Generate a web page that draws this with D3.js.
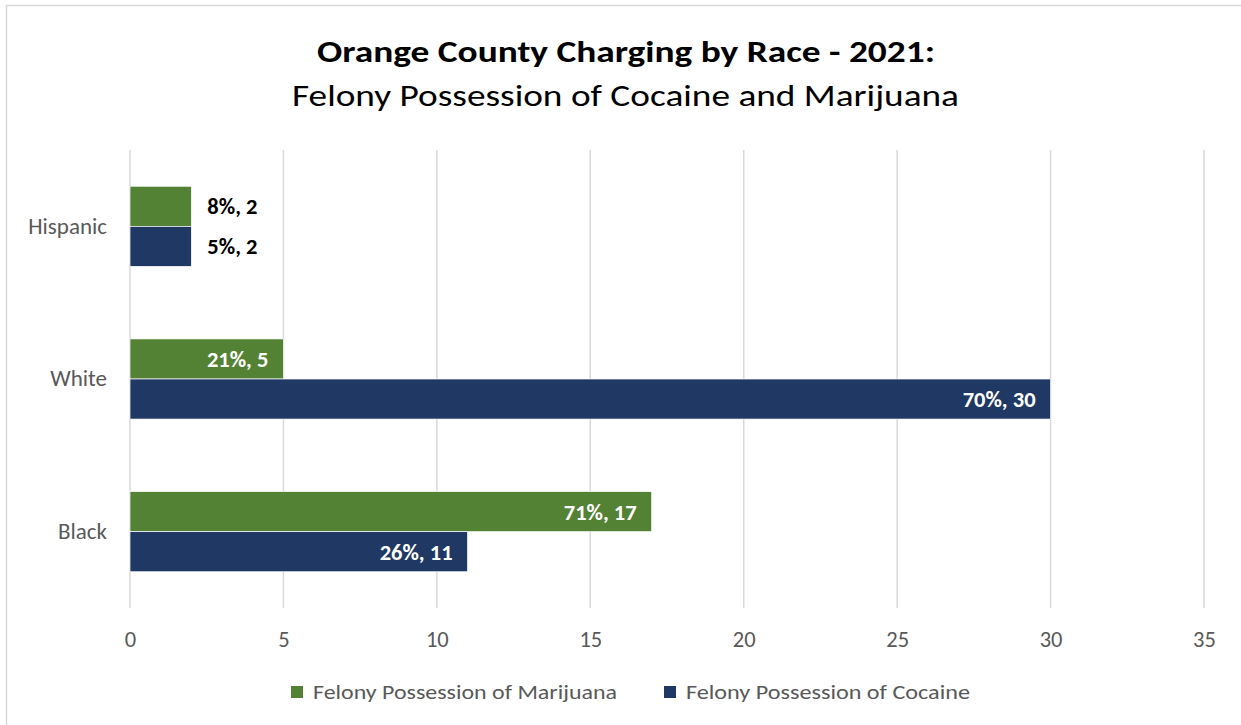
<!DOCTYPE html>
<html><head><meta charset="utf-8">
<script src="https://cdn.jsdelivr.net/npm/d3@7"></script>
<style>
body{margin:0;background:#fff;}
text{font-family:Carlito,Calibri,Lato,"Open Sans",sans-serif;}
</style></head>
<body><svg id="c" width="1241" height="725"></svg>
<script>
const categories = ["Hispanic","White","Black"];
const seriesNames = ["Felony Possession of Marijuana","Felony Possession of Cocaine"];
const marijuana = [2,5,17];
const cocaine = [2,30,11];
const marijuanaPct = ["8%","21%","71%"];
const cocainePct = ["5%","70%","26%"];
const xTicks = [0,5,10,15,20,25,30,35];
const colors = ["#548235","#203864"];
const FF = 'Carlito,Calibri,Lato,"Open Sans",sans-serif';

const svg = d3.select("#c");
svg.append("rect").attr("x",6.5).attr("y",5.5).attr("width",1250).attr("height",730)
  .attr("fill","#fff").attr("stroke","#d9d9d9").attr("stroke-width",1.5);

svg.append("text").attr("x",626).attr("y",62).attr("text-anchor","middle")
  .attr("font-size",31).attr("font-weight","bold").attr("fill","#000")
  .attr("textLength",618).attr("lengthAdjust","spacingAndGlyphs")
  .text("Orange County Charging by Race - 2021:");
svg.append("text").attr("x",625.5).attr("y",106).attr("text-anchor","middle")
  .attr("font-size",31).attr("fill","#000")
  .attr("textLength",667).attr("lengthAdjust","spacingAndGlyphs")
  .text("Felony Possession of Cocaine and Marijuana");

const x = d3.scaleLinear().domain([0,35]).range([130,1204]);
const y = d3.scaleBand().domain(categories).range([150,608]).paddingInner(0.475).paddingOuter(0.2375);
const y1 = d3.scaleBand().domain([0,1]).range([0,y.bandwidth()]);

// gridlines
svg.append("g").selectAll("line").data(xTicks).join("line")
  .attr("x1",d=>x(d)).attr("x2",d=>x(d)).attr("y1",150).attr("y2",608)
  .attr("stroke","#d9d9d9").attr("stroke-width",1.5);

// x axis labels
const xa = svg.append("g").attr("transform","translate(0,608)")
  .call(d3.axisBottom(x).tickValues(xTicks).tickSize(0).tickPadding(23));
xa.select(".domain").remove();
xa.selectAll("text").attr("font-size",22.5).attr("fill","#595959").attr("font-family",FF);

// y axis labels
const ya = svg.append("g").attr("transform","translate(130,0)")
  .call(d3.axisLeft(y).tickSize(0).tickPadding(23));
ya.select(".domain").remove();
ya.selectAll("text").attr("font-size",23).attr("fill","#595959").attr("font-family",FF);

const data = [];
categories.forEach((c,i)=>{
  data.push({cat:c,s:0,v:marijuana[i],pct:marijuanaPct[i]});
  data.push({cat:c,s:1,v:cocaine[i],pct:cocainePct[i]});
});

svg.append("g").selectAll("rect").data(data).join("rect")
  .attr("x",x(0)).attr("y",d=>y(d.cat)+y1(d.s))
  .attr("width",d=>x(d.v)-x(0)).attr("height",y1.bandwidth())
  .attr("fill",d=>colors[d.s]).attr("stroke","#fff").attr("stroke-width",0.7);

svg.append("g").selectAll("text").data(data).join("text")
  .attr("x",d=> d.cat==="Hispanic" ? x(d.v)+16 : x(d.v)-15)
  .attr("y",d=>y(d.cat)+y1(d.s)+y1.bandwidth()/2)
  .attr("dy","0.36em")
  .attr("text-anchor",d=> d.cat==="Hispanic" ? "start" : "end")
  .attr("font-size",22.5).attr("font-weight","bold")
  .attr("fill",d=> d.cat==="Hispanic" ? "#000" : "#fff")
  .text(d=>d.pct+", "+d.v);

// legend
const lg = svg.append("g");
const lx = [291,664];
const lw = [304,284];
seriesNames.forEach((n,i)=>{
  lg.append("rect").attr("x",lx[i]).attr("y",686).attr("width",12).attr("height",12).attr("fill",colors[i]);
  lg.append("text").attr("x",lx[i]+22).attr("y",692).attr("dy","0.35em")
    .attr("font-size",20.5).attr("fill","#595959")
    .attr("textLength",lw[i]).attr("lengthAdjust","spacingAndGlyphs").text(n);
});
</script></body></html>
